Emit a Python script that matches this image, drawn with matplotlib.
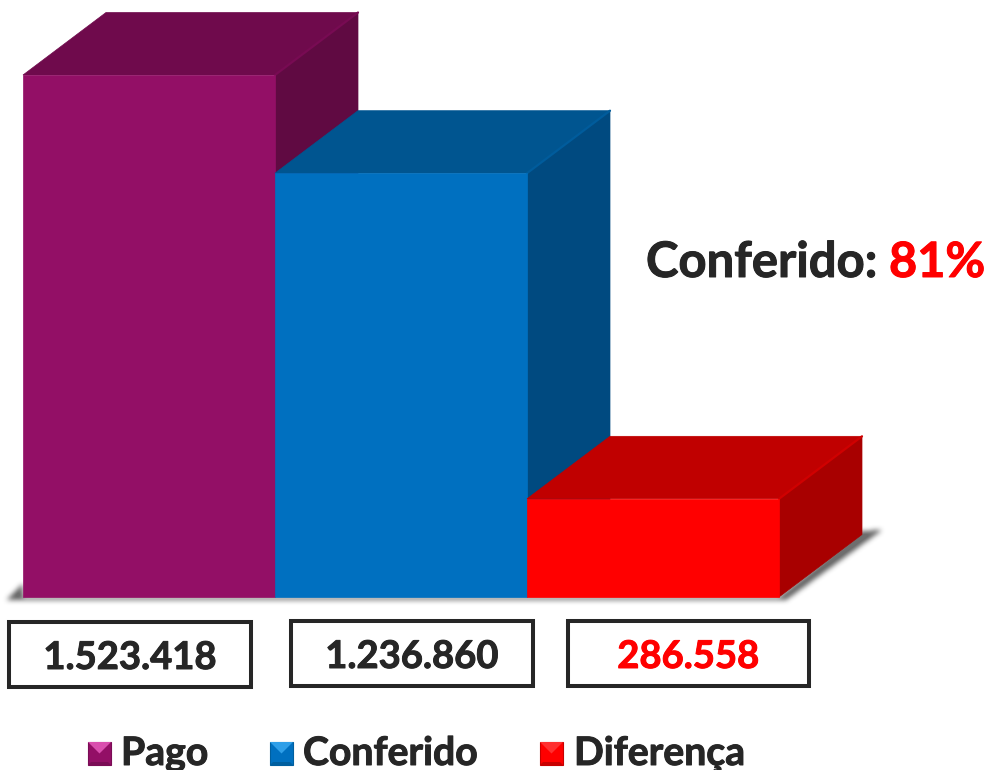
import matplotlib
matplotlib.use("Agg")
import matplotlib.pyplot as plt
import matplotlib.patheffects as pe
import numpy as np
from matplotlib.patches import Polygon, Rectangle
from matplotlib.path import Path
from matplotlib.transforms import Affine2D

plt.rcParams["font.family"] = ["Lato", "DejaVu Sans"]

categories = ["Pago", "Conferido", "Diferença"]
values = [1523418, 1236860, 286558]
value_labels = ["1.523.418", "1.236.860", "286.558"]
front_colors = ["#930F66", "#0070C0", "#FF0000"]
top_colors = ["#6F0A4C", "#005590", "#C00000"]
side_colors = ["#600A42", "#004A80", "#A80000"]
ridge_colors = ["#780B53", "#005C9C", "#D00000"]
note_label = "Conferido:"
note_value = "81%"

INK = "#262626"
W, H = 990, 770
fig = plt.figure(figsize=(W / 100, H / 100), dpi=100, facecolor="white")
px = Affine2D().scale(1 / W, -1 / H).translate(0, 1) + fig.transFigure


def heavier(color, lw=0.7):
    return [pe.withStroke(linewidth=lw, foreground=color)]


# Axes spanning the front faces of the bars
L, R, T, B = 23, 779, 75, 597
ax = fig.add_axes([L / W, 1 - B / H, (R - L) / W, (B - T) / H])
ax.set_xlim(-0.5, 2.5)
ax.set_ylim(0, max(values))
ax.axis("off")
ax.patch.set_visible(False)
ax.set_zorder(2)

depth_x = 83 / 252
depth_y = 62.5 / (B - T) * max(values)

# Soft ground shadow: a blurred polygon mask placed under the bars
shadow_shape = [(7, 600), (23, 584), (23, 597), (779, 597), (862, 531), (882, 530), (786, 600)]
gx, gy = np.meshgrid(np.arange(W) + 0.5, np.arange(H) + 0.5)
mask = Path(shadow_shape).contains_points(np.c_[gx.ravel(), gy.ravel()]).reshape(H, W).astype(float)
kernel = np.ones(5) / 5
for _ in range(3):
    mask = np.apply_along_axis(lambda r: np.convolve(r, kernel, mode="same"), 0, mask)
    mask = np.apply_along_axis(lambda r: np.convolve(r, kernel, mode="same"), 1, mask)
rgba = np.zeros((H, W, 4))
rgba[..., :3] = 0.33
rgba[..., 3] = np.clip(mask * 1.1, 0, 1) * 0.85
fig.figimage(rgba, 0, 0, origin="upper", zorder=0)

for i, v in enumerate(values):
    x0, x1 = i - 0.5, i + 0.5
    ax.add_patch(Polygon([(x0, v), (x1, v), (x1 + depth_x, v + depth_y), (x0 + depth_x, v + depth_y)],
                         closed=True, facecolor=top_colors[i], edgecolor=top_colors[i],
                         lw=0.5, clip_on=False, zorder=2 + i))
    ax.add_patch(Polygon([(x1, 0), (x1 + depth_x, depth_y), (x1 + depth_x, v + depth_y), (x1, v)],
                         closed=True, facecolor=side_colors[i], edgecolor=side_colors[i],
                         lw=0.5, clip_on=False, zorder=2 + i))
    ax.plot([x1, x1 + depth_x], [v, v + depth_y], color=ridge_colors[i], lw=1.6,
            solid_capstyle="round", clip_on=False, zorder=2 + i)
    ax.bar(i, v, width=1, color=front_colors[i], edgecolor=front_colors[i], lw=0.5,
           clip_on=False, zorder=2.5 + i)

# Value boxes
boxes = [(9, 622, 242, 65), (291, 621, 242, 65), (568, 621, 241, 65)]
label_colors = [INK, INK, "#FF0000"]
for (bx, by, bw, bh), label, c in zip(boxes, value_labels, label_colors):
    fig.add_artist(Rectangle((bx, by), bw, bh, transform=px, facecolor="white",
                             edgecolor=INK, lw=2.9, zorder=3))
    fig.text(bx + bw / 2, by + 47, label, transform=px, color=c, fontsize=27.5,
             fontweight="bold", ha="center", va="baseline", zorder=4,
             path_effects=heavier(c))

# Annotation
fig.text(646, 277, note_label, transform=px, color=INK, fontsize=35.3,
         fontweight="bold", ha="left", va="baseline", zorder=4, path_effects=heavier(INK))
fig.text(889, 277, note_value, transform=px, color="#FF0000", fontsize=35,
         fontweight="bold", ha="left", va="baseline", zorder=4, path_effects=heavier("#FF0000"))

# Legend with bevelled swatches
swatch_x = [88, 270, 540]
text_x = [121, 303, 574]
sw, sy = 23, 742
bevel_light = ["#D94FAE", "#2F9FE8", "#FF3030"]
bevel_dark = ["#7A0C55", "#005F9F", "#C80000"]
for x, tx, name, front, light, dark in zip(swatch_x, text_x, categories,
                                           front_colors, bevel_light, bevel_dark):
    s = 3
    outer = [(x, sy), (x + sw, sy), (x + sw, sy + sw), (x, sy + sw)]
    inner = [(x + s, sy + s), (x + sw - s, sy + s), (x + sw - s, sy + sw - s), (x + s, sy + sw - s)]
    fig.add_artist(Polygon(outer, closed=True, transform=px, facecolor=front,
                           edgecolor=dark, lw=0.8, zorder=3))
    fig.add_artist(Polygon([outer[0], outer[1], (x + sw / 2, sy + sw / 2)], closed=True,
                           transform=px, facecolor=light, lw=0, zorder=3.1))
    fig.add_artist(Polygon([outer[3], outer[2], inner[2], inner[3]], closed=True,
                           transform=px, facecolor=dark, lw=0, zorder=3.1))
    fig.text(tx, 765, name, transform=px, color=INK, fontsize=28.2,
             fontweight="bold", ha="left", va="baseline", zorder=4, path_effects=heavier(INK))

fig.savefig("out.png", dpi=100, facecolor="white")
